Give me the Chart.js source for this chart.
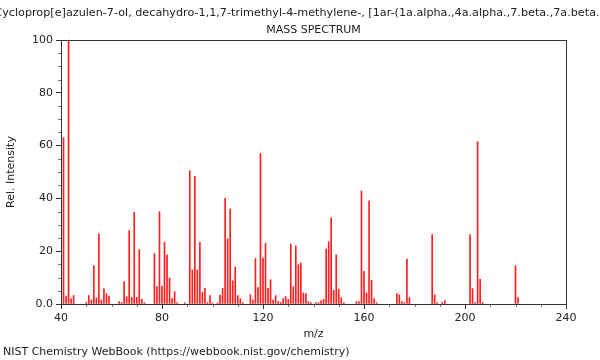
<!DOCTYPE html>
<html>
<head>
<meta charset="utf-8">
<script src="https://cdn.jsdelivr.net/npm/chart.js@4"></script>
<style>
  html, body { margin: 0; padding: 0; background: #fff; }
  #wrap { width: 600px; height: 360px; position: relative; }
</style>
</head>
<body>
<div id="wrap"><canvas id="spec"></canvas></div>
<script>
const compound = "1H-Cycloprop[e]azulen-7-ol, decahydro-1,1,7-trimethyl-4-methylene-, [1ar-(1a.alpha.,4a.alpha.,7.beta.,7a.beta.,7b.alpha.)]-";
const subtitle = "MASS SPECTRUM";
const footer = "NIST Chemistry WebBook (https://webbook.nist.gov/chemistry)";

const mz = [41, 42, 43, 44, 45, 50, 51, 52, 53, 54, 55, 56, 57, 58, 59,
  63, 64, 65, 66, 67, 68, 69, 70, 71, 72, 73, 77, 78, 79, 80, 81, 82, 83, 84, 85, 86,
  89, 91, 92, 93, 94, 95, 96, 97, 98, 99, 100, 102, 103, 104, 105, 106, 107, 108, 109, 110, 111, 112,
  115, 116, 117, 118, 119, 120, 121, 122, 123, 124, 125, 126, 127, 128, 129, 130,
  131, 132, 133, 134, 135, 136, 137, 138, 139, 141, 142, 143, 144, 145, 146, 147, 148, 149, 150, 151, 152,
  157, 158, 159, 160, 161, 162, 163, 164, 165, 173, 174, 175, 176, 177, 178,
  187, 188, 189, 191, 192, 202, 203, 204, 205, 206, 207, 220, 221];
const intensity = [63, 3, 100, 2, 3.2, 0.6, 3.2, 1.5, 14.5, 2.3, 26.6, 1.5, 5.7, 3.9, 3,
  0.9, 0.6, 8.5, 2.8, 27.8, 2.5, 34.7, 2.5, 20.6, 1.8, 0.5, 19.1, 6.6, 35, 6.8, 23.4, 18.6, 9.8, 2.1, 4.7, 0.5,
  0.5, 50.5, 12.9, 48.4, 12.9, 23.4, 4.4, 5.9, 0.6, 3.2, 0.4, 0.4, 3.4, 5.9, 40, 24.7, 36, 8.8, 14, 3.2, 2, 0.5,
  3.5, 1.5, 17.2, 6.2, 57, 17.4, 23, 5.9, 9.2, 1.5, 3.2, 0.9, 0.6, 2.1, 2.8, 1.8,
  22.7, 6.6, 22, 14.9, 15.5, 4.2, 3.9, 0.9, 0.5, 0.5, 0.5, 1.3, 1.8, 20.8, 23.6, 32.7, 5.2, 18.6, 5.6, 2.4, 0.5,
  0.9, 0.9, 42.8, 12.4, 4.2, 39.1, 9, 2.1, 0.5, 3.9, 3.5, 0.9, 0.5, 17, 2.4,
  26.3, 3.5, 0.5, 0.6, 1.3, 26.3, 5.8, 0.5, 61.5, 9.3, 0.6, 14.5, 2.4];

const xTicks = [40, 80, 120, 160, 200, 240];
const yTicks = [0, 20, 40, 60, 80, 100];

const FONT = "DejaVu Sans";

// titles, footer, frame and minor ticks drawn on top of the chart
const decor = {
  id: "decor",
  afterDraw(chart) {
    const { ctx, chartArea: a, scales } = chart;
    const cx = (a.left + a.right) / 2;
    ctx.save();
    ctx.fillStyle = "#222";
    ctx.textAlign = "center";
    ctx.textBaseline = "middle";
    ctx.font = `11.2px ${FONT}`;
    ctx.fillText(compound, cx + 8, 13);
    ctx.font = `11px ${FONT}`;
    ctx.fillText(subtitle, cx, 30);
    ctx.fillText("m/z", cx, 334);
    ctx.textAlign = "left";
    ctx.fillText(footer, 3, 352);
    ctx.save();
    ctx.translate(11, (a.top + a.bottom) / 2);
    ctx.rotate(-Math.PI / 2);
    ctx.textAlign = "center";
    ctx.fillText("Rel. Intensity", 0, 0);
    ctx.restore();

    // minor ticks
    ctx.strokeStyle = "#777";
    ctx.lineWidth = 1;
    ctx.beginPath();
    for (let v = 50; v < 240; v += 10) {
      if (v % 40 === 0) continue;
      const px = Math.round(scales.x.getPixelForValue(v)) + 0.5;
      ctx.moveTo(px, a.bottom);
      ctx.lineTo(px, a.bottom + 3);
    }
    for (let v = 5; v < 100; v += 5) {
      if (v % 20 === 0) continue;
      const py = Math.round(scales.y.getPixelForValue(v)) + 0.5;
      ctx.moveTo(a.left, py);
      ctx.lineTo(a.left - 3, py);
    }
    ctx.stroke();

    // frame
    ctx.strokeStyle = "#333";
    ctx.strokeRect(Math.round(a.left) + 0.5, Math.round(a.top) + 0.5,
      Math.round(a.right - a.left), Math.round(a.bottom - a.top));
    ctx.restore();
  }
};

new Chart(document.getElementById("spec"), {
  type: "bar",
  data: {
    datasets: [{
      data: mz.map((m, i) => ({ x: m, y: intensity[i] })),
      backgroundColor: "rgb(255, 30, 30)",
      barThickness: 1,
      grouped: false,
    }]
  },
  options: {
    responsive: true,
    maintainAspectRatio: false,
    animation: false,
    layout: { padding: { top: 40, right: 34, left: 0, bottom: 0 } },
    plugins: { legend: { display: false }, tooltip: { enabled: false } },
    scales: {
      x: {
        type: "linear",
        min: 40, max: 240,
        offset: false,
        afterFit: s => { s.height = 56; },
        afterBuildTicks: s => { s.ticks = xTicks.map(v => ({ value: v })); },
        ticks: { font: { family: FONT, size: 11 }, color: "#222", padding: 3, maxRotation: 0 },
        grid: { drawOnChartArea: false, tickLength: 5, color: "#333", offset: false },
        border: { color: "#333" }
      },
      y: {
        min: 0, max: 100,
        afterFit: s => { s.width = 61; },
        afterBuildTicks: s => { s.ticks = yTicks.map(v => ({ value: v })); },
        ticks: {
          font: { family: FONT, size: 11 }, color: "#222", padding: 3,
          callback: v => v === 0 ? "0.0" : String(v)
        },
        grid: { drawOnChartArea: false, tickLength: 5, color: "#333" },
        border: { color: "#333" }
      }
    }
  },
  plugins: [decor]
});
</script>
</body>
</html>
